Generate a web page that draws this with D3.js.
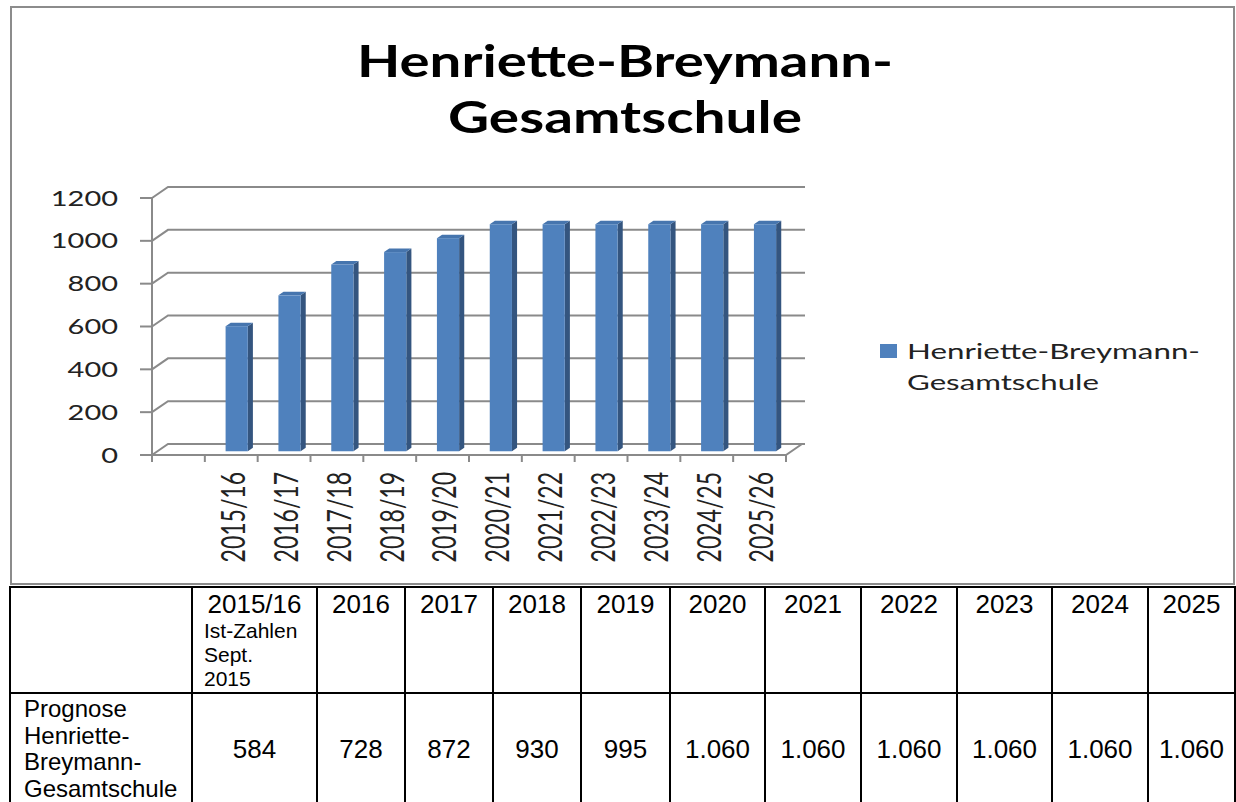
<!DOCTYPE html>
<html>
<head>
<meta charset="utf-8">
<title>Henriette-Breymann-Gesamtschule</title>
<script src="https://cdn.jsdelivr.net/npm/d3@7"></script>
<style>
  body { margin: 0; background: #fff; }
  svg { display: block; }
</style>
</head>
<body>
<div id="chart"></div>
<script>
// chart data
var categories = ["2015/16", "2016/17", "2017/18", "2018/19", "2019/20", "2020/21",
                  "2021/22", "2022/23", "2023/24", "2024/25", "2025/26"];
var values = [584, 728, 872, 930, 995, 1060, 1060, 1060, 1060, 1060, 1060];
var yTicks = [0, 200, 400, 600, 800, 1000, 1200];
var seriesName = ["Henriette-Breymann-", "Gesamtschule"];
var titleLines = ["Henriette-Breymann-", "Gesamtschule"];

// table data
var tableHeaders = ["2015/16", "2016", "2017", "2018", "2019", "2020", "2021", "2022", "2023", "2024", "2025"];
var headerNote = ["Ist-Zahlen", "Sept.", "2015"];
var rowLabel = ["Prognose", "Henriette-", "Breymann-", "Gesamtschule"];

var W = 1236, H = 802;
var svg = d3.select("#chart").append("svg").attr("width", W).attr("height", H);

var sx = 1.38; // the chart text is stretched sideways in the picture
var blue = "#4f81bd", blueSide = "#34557f", blueTop = "#4675ae";
var grid = "#8a8a8a";

// frame of the chart
svg.append("rect").attr("x", 11).attr("y", 7).attr("width", 1223).attr("height", 577)
  .attr("fill", "none").attr("stroke", "#8c8c8c").attr("stroke-width", 2);

// title
svg.selectAll("text.title").data(titleLines).enter().append("text")
  .attr("class", "title")
  .attr("x", 625).attr("y", function(d, i) { return 77 + i * 56; })
  .attr("text-anchor", "middle")
  .attr("font-family", "Lato, 'Open Sans', sans-serif")
  .attr("font-weight", "bold").attr("font-size", 44)
  .attr("textLength", function(d, i) { return i == 0 ? 536 : 354; })
  .attr("lengthAdjust", "spacingAndGlyphs")
  .text(function(d) { return d; });

// pseudo 3D axes
var DX = 16, DY = -11;
var x = d3.scaleBand().domain([""].concat(categories)).range([152, 786]);
var y = d3.scaleLinear().domain([0, 1200]).range([455, 198]);

var g = svg.append("g");

// back wall gridlines with the little side-wall step
g.selectAll("path.grid").data(yTicks).enter().append("path")
  .attr("class", "grid")
  .attr("d", function(d) {
    return "M152," + y(d) + "L" + (152 + DX) + "," + (y(d) + DY) + "L805," + (y(d) + DY);
  })
  .attr("fill", "none").attr("stroke", grid).attr("stroke-width", 2);

// floor front edge and right corner
g.append("path")
  .attr("d", "M152," + y(0) + "L786," + y(0) + "L" + (786 + DX) + "," + (y(0) + DY))
  .attr("fill", "none").attr("stroke", grid).attr("stroke-width", 2);

// value axis
g.append("line").attr("x1", 152).attr("x2", 152).attr("y1", y(1200)).attr("y2", y(0) + 7)
  .attr("stroke", grid).attr("stroke-width", 2);
g.selectAll("line.ytick").data(yTicks).enter().append("line")
  .attr("class", "ytick")
  .attr("x1", 140).attr("x2", 152).attr("y1", function(d) { return y(d); }).attr("y2", function(d) { return y(d); })
  .attr("stroke", grid).attr("stroke-width", 2);
g.selectAll("text.ylab").data(yTicks).enter().append("text")
  .attr("class", "ylab")
  .attr("transform", function(d) { return "translate(118," + y(d) + ") scale(" + sx + ",1)"; })
  .attr("text-anchor", "end").attr("dy", "0.36em")
  .attr("font-family", "Lato, sans-serif").attr("font-size", 21).attr("fill", "#222")
  .text(function(d) { return d; });

// category axis ticks at band edges
var edges = x.domain().map(function(d) { return x(d); }).concat([786]);
g.selectAll("line.xtick").data(edges).enter().append("line")
  .attr("class", "xtick")
  .attr("x1", function(d) { return d; }).attr("x2", function(d) { return d; })
  .attr("y1", y(0)).attr("y2", y(0) + 7)
  .attr("stroke", grid).attr("stroke-width", 2);

g.selectAll("text.xlab").data(categories).enter().append("text")
  .attr("class", "xlab")
  .attr("transform", function(d) {
    return "translate(" + (x(d) + x.bandwidth() / 2 + 2) + ",472) scale(" + (sx + 0.05) + ",1) rotate(-90)";
  })
  .attr("text-anchor", "end").attr("dy", "0.36em")
  .attr("font-family", "Lato, sans-serif").attr("font-size", 23).attr("fill", "#222")
  .text(function(d) { return d; });

// bars
var t0 = 0.34, t1 = 0.66;
var bw = x.bandwidth() * 0.42;
var bars = g.selectAll("g.bar").data(categories).enter().append("g").attr("class", "bar");

function geom(d, i) {
  var cx = x(d) + x.bandwidth() / 2;
  var x0 = cx + t0 * DX - bw / 2, x1 = x0 + bw;
  var yb = y(0) + t0 * DY, yt = y(values[i]) + t0 * DY;
  var ddx = (t1 - t0) * DX, ddy = (t1 - t0) * DY;
  return { x0: x0, x1: x1, yb: yb, yt: yt, ddx: ddx, ddy: ddy };
}

bars.append("path")
  .attr("d", function(d, i) {
    var b = geom(d, i);
    return "M" + b.x1 + "," + b.yb + "L" + b.x1 + "," + b.yt + "L" + (b.x1 + b.ddx) + "," + (b.yt + b.ddy) +
      "L" + (b.x1 + b.ddx) + "," + (b.yb + b.ddy) + "Z";
  })
  .attr("fill", blueSide);
bars.append("path")
  .attr("d", function(d, i) {
    var b = geom(d, i);
    return "M" + b.x0 + "," + b.yt + "L" + b.x1 + "," + b.yt + "L" + (b.x1 + b.ddx) + "," + (b.yt + b.ddy) +
      "L" + (b.x0 + b.ddx) + "," + (b.yt + b.ddy) + "Z";
  })
  .attr("fill", blueTop);
bars.append("rect")
  .attr("x", function(d, i) { return geom(d, i).x0; })
  .attr("y", function(d, i) { return geom(d, i).yt; })
  .attr("width", bw)
  .attr("height", function(d, i) { var b = geom(d, i); return b.yb - b.yt; })
  .attr("fill", blue);

// legend
svg.append("rect").attr("x", 880).attr("y", 344).attr("width", 17).attr("height", 14).attr("fill", blue);
svg.selectAll("text.leg").data(seriesName).enter().append("text")
  .attr("class", "leg")
  .attr("x", 907).attr("y", function(d, i) { return 359 + i * 31; })
  .attr("font-family", "Lato, sans-serif").attr("font-size", 22).attr("fill", "#222")
  .attr("textLength", function(d, i) { return i == 0 ? 293 : 192; })
  .attr("lengthAdjust", "spacingAndGlyphs")
  .text(function(d) { return d; });

// table below the chart
var de = d3.formatLocale({ decimal: ",", thousands: ".", grouping: [3], currency: ["", " €"] });
var fmt = de.format(",d");
var colEdges = [10, 192, 317, 405, 493, 581, 670, 765, 861, 957, 1052, 1148, 1235];
var rowTop = 587, rowMid = 693, rowBottom = 802;

var tb = svg.append("g").attr("font-family", "Arial, 'Liberation Sans', sans-serif").attr("fill", "#000");
tb.append("line").attr("x1", colEdges[0] - 1).attr("x2", colEdges[colEdges.length - 1] + 1)
  .attr("y1", rowTop).attr("y2", rowTop).attr("stroke", "#000").attr("stroke-width", 2);
tb.append("line").attr("x1", colEdges[0] - 1).attr("x2", colEdges[colEdges.length - 1] + 1)
  .attr("y1", rowMid).attr("y2", rowMid).attr("stroke", "#000").attr("stroke-width", 2);
tb.selectAll("line.col").data(colEdges).enter().append("line")
  .attr("class", "col")
  .attr("x1", function(d) { return d; }).attr("x2", function(d) { return d; })
  .attr("y1", rowTop).attr("y2", rowBottom)
  .attr("stroke", "#000").attr("stroke-width", 2);

function colMid(i) { return (colEdges[i + 1] + colEdges[i + 2]) / 2; }

tb.selectAll("text.head").data(tableHeaders).enter().append("text")
  .attr("class", "head")
  .attr("x", function(d, i) { return colMid(i); }).attr("y", 613)
  .attr("text-anchor", "middle").attr("font-size", 26)
  .text(function(d) { return d; });
tb.selectAll("text.note").data(headerNote).enter().append("text")
  .attr("class", "note")
  .attr("x", 204).attr("y", function(d, i) { return 638 + i * 24; })
  .attr("font-size", 21)
  .text(function(d) { return d; });
tb.selectAll("text.rowlab").data(rowLabel).enter().append("text")
  .attr("class", "rowlab")
  .attr("x", 24).attr("y", function(d, i) { return 717 + i * 26.5; })
  .attr("font-size", 24)
  .text(function(d) { return d; });
tb.selectAll("text.val").data(values).enter().append("text")
  .attr("class", "val")
  .attr("x", function(d, i) { return colMid(i); }).attr("y", 758)
  .attr("text-anchor", "middle").attr("font-size", 26)
  .text(function(d) { return fmt(d); });
</script>
</body>
</html>
